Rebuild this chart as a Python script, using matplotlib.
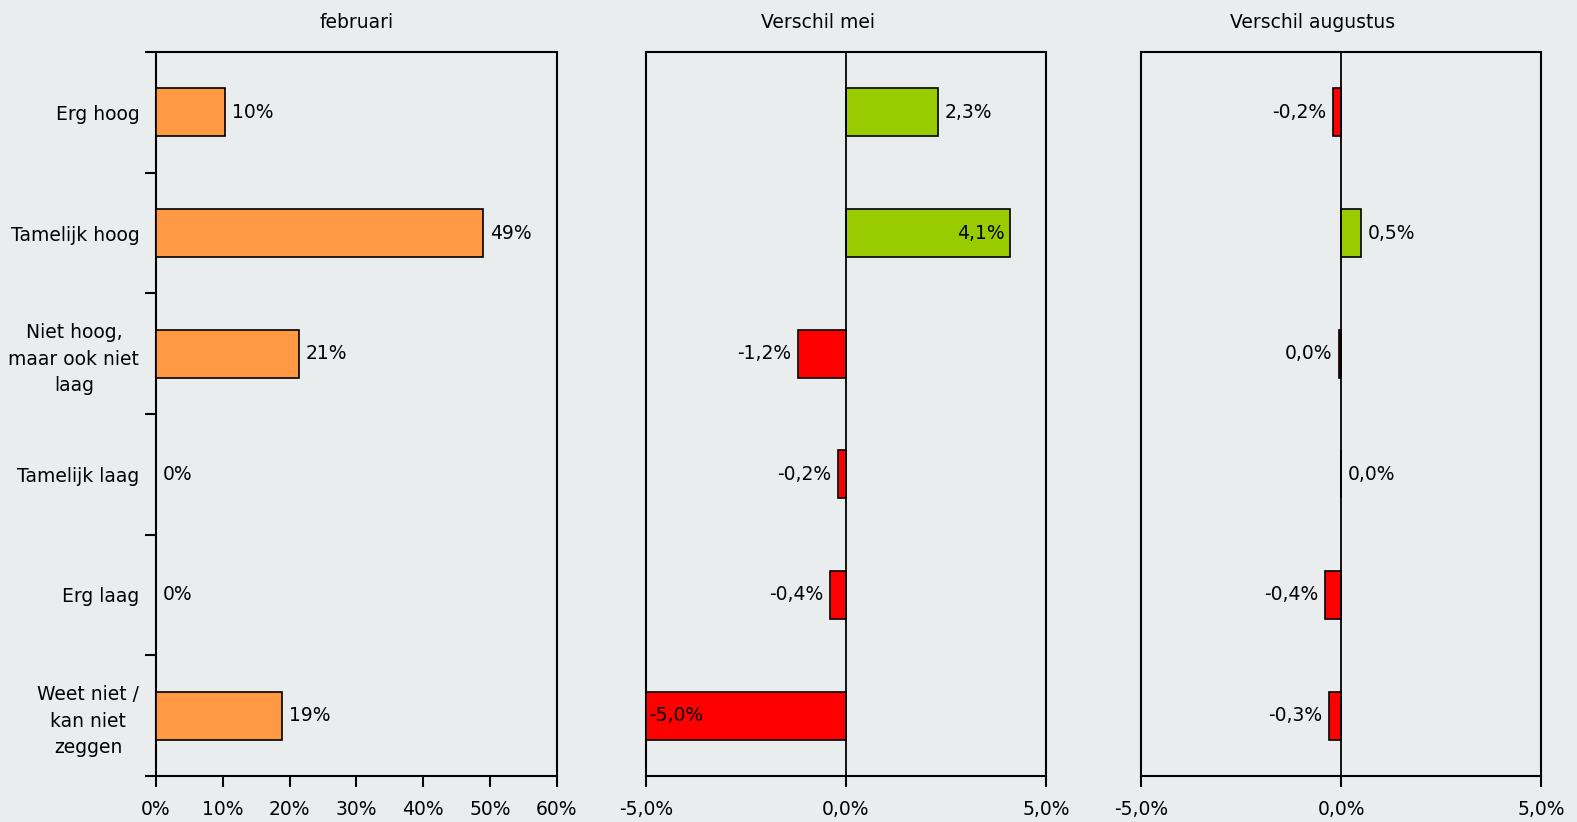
import matplotlib
matplotlib.use("Agg")
import matplotlib.pyplot as plt
from matplotlib.ticker import FuncFormatter

categories = ["Erg hoog", "Tamelijk hoog", "Niet hoog,\nmaar ook niet\nlaag",
              "Tamelijk laag", "Erg laag", "Weet niet /\nkan niet\nzeggen"]
februari = [10.3, 49.0, 21.4, 0.0, 0.0, 18.8]
verschil_mei = [2.3, 4.1, -1.2, -0.2, -0.4, -5.0]
verschil_augustus = [-0.2, 0.5, -0.04, 0.0, -0.4, -0.3]
titles = ["februari", "Verschil mei", "Verschil augustus"]

BG = "#E9EDEE"
ORANGE = "#FF9944"
GREEN = "#99CC00"
RED = "#FF0000"
FS = 13.5

plt.rcParams["font.family"] = ["DejaVu Sans"]

fig = plt.figure(figsize=(15.77, 8.22), dpi=100, facecolor=BG)
bottom, top = 0.056, 0.9367
boxes = [(0.0989, 0.3532), (0.4096, 0.6633), (0.7235, 0.9772)]
axes = [fig.add_axes([l, bottom, r - l, top - bottom]) for l, r in boxes]

ypos = list(range(len(categories)))
bh = 0.4


def nl(s):
    return s.replace(".", ",")


for ax in axes:
    ax.set_facecolor(BG)
    ax.set_ylim(len(categories) - 0.5, -0.5)
    for s in ax.spines.values():
        s.set_linewidth(1.5)
        s.set_color("black")
    ax.tick_params(axis="x", direction="out", length=8, width=1.5,
                   labelsize=FS, pad=9)

# Panel 1: February distribution
ax = axes[0]
ax.barh(ypos, februari, height=bh, color=ORANGE, edgecolor="black",
        linewidth=1.2, zorder=3)
ax.set_xlim(0, 60)
ax.set_xticks(range(0, 61, 10))
ax.xaxis.set_major_formatter(FuncFormatter(lambda v, p: f"{v:.0f}%"))
ax.set_yticks(ypos)
ax.set_yticklabels(categories, fontsize=FS, multialignment="center",
                   linespacing=1.5)
ax.tick_params(axis="y", which="major", length=0, pad=12)
ax.set_yticks([i - 0.5 for i in range(len(categories) + 1)], minor=True)
ax.tick_params(axis="y", which="minor", direction="out", length=8, width=1.5)
for y, v in zip(ypos, februari):
    ax.annotate(f"{v:.0f}%", (v, y), xytext=(5, 0), textcoords="offset points",
                va="center", ha="left", fontsize=FS)

# Panels 2 and 3: differences
for ax, vals in ((axes[1], verschil_mei), (axes[2], verschil_augustus)):
    colors = [GREEN if v > 0 else RED for v in vals]
    ax.barh(ypos, vals, height=bh, color=colors, edgecolor="black",
            linewidth=1.2, zorder=3)
    ax.axvline(0, color="black", linewidth=1.3, zorder=4)
    ax.set_xlim(-5, 5)
    ax.set_xticks([-5, 0, 5])
    ax.xaxis.set_major_formatter(FuncFormatter(lambda v, p: nl(f"{v:.1f}%")))
    ax.set_yticks([])
    for y, v in zip(ypos, vals):
        txt = nl(f"{round(v, 1) + 0.0:.1f}%")
        if abs(v) > 3.5:
            off, ha = (-4, "right") if v > 0 else (2, "left")
        elif v < 0:
            off, ha = (-5, "right")
        else:
            off, ha = (5, "left")
        ax.annotate(txt, (v, y), xytext=(off, 0), textcoords="offset points",
                    va="center", ha=ha, fontsize=FS, zorder=5)

# Panel titles
for (l, r), t, dx in zip(boxes, titles, (0.0, -0.018, -0.018)):
    fig.text((l + r) / 2 + dx, 0.973, t, ha="center", va="center", fontsize=FS)

fig.savefig("out.png", dpi=100, facecolor=BG)
